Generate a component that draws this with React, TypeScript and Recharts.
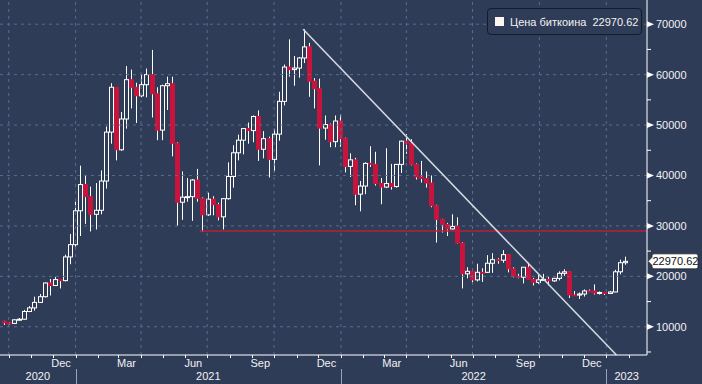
import React from "react";
import { ComposedChart, Bar, XAxis, YAxis, ReferenceLine } from "recharts";

const BG = "#2f3c58";
const RED = "#c8143c";
const GRID = "#5b6b8c";
const FONT = "'Liberation Sans', Arial, sans-serif";

const START = Date.parse("2020-09-19T00:00:00Z");
const END = Date.parse("2023-02-26T00:00:00Z");

const weeks = [
  "2020-09-21","2020-09-28","2020-10-05","2020-10-12","2020-10-19","2020-10-26","2020-11-02","2020-11-09","2020-11-16","2020-11-23","2020-11-30","2020-12-07","2020-12-14","2020-12-21","2020-12-28",
  "2021-01-04","2021-01-11","2021-01-18","2021-01-25","2021-02-01","2021-02-08","2021-02-15","2021-02-22","2021-03-01","2021-03-08","2021-03-15","2021-03-22","2021-03-29","2021-04-05","2021-04-12","2021-04-19","2021-04-26","2021-05-03","2021-05-10","2021-05-17","2021-05-24","2021-05-31","2021-06-07","2021-06-14","2021-06-21","2021-06-28","2021-07-05","2021-07-12","2021-07-19","2021-07-26","2021-08-02","2021-08-09","2021-08-16","2021-08-23","2021-08-30","2021-09-06","2021-09-13","2021-09-20","2021-09-27","2021-10-04","2021-10-11","2021-10-18","2021-10-25","2021-11-01","2021-11-08","2021-11-15","2021-11-22","2021-11-29","2021-12-06","2021-12-13","2021-12-20","2021-12-27",
  "2022-01-03","2022-01-10","2022-01-17","2022-01-24","2022-01-31","2022-02-07","2022-02-14","2022-02-21","2022-02-28","2022-03-07","2022-03-14","2022-03-21","2022-03-28","2022-04-04","2022-04-11","2022-04-18","2022-04-25","2022-05-02","2022-05-09","2022-05-16","2022-05-23","2022-05-30","2022-06-06","2022-06-13","2022-06-20","2022-06-27","2022-07-04","2022-07-11","2022-07-18","2022-07-25","2022-08-01","2022-08-08","2022-08-15","2022-08-22","2022-08-29","2022-09-05","2022-09-12","2022-09-19","2022-09-26","2022-10-03","2022-10-10","2022-10-17","2022-10-24","2022-10-31","2022-11-07","2022-11-14","2022-11-21","2022-11-28","2022-12-05","2022-12-12","2022-12-19","2022-12-26",
  "2023-01-02","2023-01-09","2023-01-16","2023-01-23",
];

const opens = [
  11080,10780,10670,11380,11500,13030,13740,14830,15960,18680,18180,19360,19150,23850,26280,
  33000,38200,35800,32300,33100,38900,48600,57500,45100,51200,59000,57500,55800,58000,60000,56200,49000,57800,58200,46400,34700,35700,35800,39100,35500,32200,35300,34200,31800,35400,39800,44500,47000,49300,48900,51700,45200,47300,43200,48200,54700,61500,61000,61300,63300,65500,58700,57200,49400,50100,46700,50800,
  47300,41800,43100,36300,37900,42400,42200,38400,37700,38400,37800,42200,46800,46400,42200,39700,39400,38500,34000,31300,30300,29400,29900,26600,20500,21000,19300,20800,20800,22600,23300,23200,24300,21500,20000,19830,21800,19400,18800,19300,19400,19100,19600,20600,20900,16300,16280,16500,17100,17090,16700,16800,
  16600,16900,20900,22700,
];
const highs = [
  11180,10960,11490,11720,13350,14090,15960,16480,18800,19480,19900,19400,24300,28400,34800,
  41950,40100,37800,38500,41000,49700,58300,57500,52600,61700,61000,58400,60100,61200,64900,57500,58000,59600,59600,46600,40800,39500,39300,41300,35700,36600,35900,34600,35500,42600,46000,48100,49400,50500,51900,52900,48800,47700,49200,56600,62000,67000,63700,63500,69000,66300,59300,59200,51900,50300,51900,52100,
  47500,44400,43500,38900,42600,45800,44700,39500,45400,42300,42300,46900,48200,47200,42400,42900,40800,40000,34200,31400,30600,32300,31700,26800,21800,21500,22500,21600,24200,24600,23600,25200,24400,21800,20500,21850,22700,19700,20300,20500,19900,19700,21000,21400,21000,17100,16800,17400,17400,18400,17000,16900,
  17100,21300,23300,23900,
];
const lows = [
  10360,10420,10540,11200,11420,12900,13200,14800,15800,16200,18100,17600,19000,22400,25900,
  28000,30400,28900,29300,32300,37400,46300,43000,44900,49300,53300,50400,55500,55500,51500,47000,47000,53000,43800,30000,31200,34800,31000,34800,28800,32000,32100,31100,29300,35200,37600,43000,44200,46300,46600,42900,43400,39600,40800,46900,53900,59600,57800,59400,62300,55600,53300,42000,47100,45600,45600,45700,
  40600,39700,34100,32900,36300,41700,38000,34300,37500,37200,37600,40500,44300,42000,39200,38600,37600,33700,26700,28700,28000,29300,26500,17600,19600,18600,19000,18900,20700,20700,22500,22700,20800,19800,19600,18600,19350,18200,18500,19100,18200,18900,19200,20100,15700,16200,15500,16000,16900,16400,16400,16300,
  16550,16850,20400,22300,
];
const closes = [
  10780,10670,11380,11500,13030,13740,14830,15960,18680,18180,19360,19150,23850,26280,33000,
  38200,35800,32300,33100,38900,48600,57500,45100,51200,59000,57500,55800,58000,60000,56200,49000,57800,58200,46400,34700,35700,35800,39100,35500,32200,35300,34200,31800,35400,39800,44500,47000,49300,48900,51700,45200,47300,43200,48200,54700,61500,61000,61300,63300,65500,58700,57200,49400,50100,46700,50800,47300,
  41800,43100,36300,37900,42400,42200,38400,37700,38400,37800,42200,46800,46400,42200,39700,39400,38500,34000,31300,30300,29400,29900,26600,20500,21000,19300,20800,20790,22600,23300,23200,24300,21500,20000,19830,21800,19400,18800,19300,19400,19100,19600,20600,20900,16300,16280,16500,17100,17090,16700,16800,16600,
  16900,20900,22700,22970.62,
];

const LAST_PRICE = 22970.62;
const SERIES_NAME = "Цена биткоина";

const priceTicks = [5000,10000,15000,20000,25000,30000,35000,40000,45000,50000,55000,60000,65000,70000];
const gridValues = [10000,20000,30000,40000,50000,60000,70000];

const monthStarts = [
  "2020-10-01","2020-11-01","2020-12-01","2021-01-01","2021-02-01","2021-03-01","2021-04-01","2021-05-01","2021-06-01","2021-07-01","2021-08-01","2021-09-01","2021-10-01","2021-11-01","2021-12-01",
  "2022-01-01","2022-02-01","2022-03-01","2022-04-01","2022-05-01","2022-06-01","2022-07-01","2022-08-01","2022-09-01","2022-10-01","2022-11-01","2022-12-01","2023-01-01","2023-02-01",
];
const quarterStarts = ["2020-10-01","2021-01-01","2021-04-01","2021-07-01","2021-10-01","2022-01-01","2022-04-01","2022-07-01","2022-10-01","2023-01-01"];
const monthLabelDates = ["2020-12-12","2021-03-12","2021-06-12","2021-09-12","2021-12-12","2022-03-12","2022-06-12","2022-09-12","2022-12-12"];
const monthLabelNames = ["Dec","Mar","Jun","Sep","Dec","Mar","Jun","Sep","Dec"];
const yearSeparators = ["2021-01-01","2022-01-01","2023-01-01"];
const yearNames = ["2020","2021","2022","2023"];

const trendStart = { date: "2021-11-10", value: 69000 };
const trendEnd = { date: "2023-01-15", value: 4400 };
const supportLevel = { date: "2021-06-21", value: 29000 };

const Y_DOMAIN = [4400, 74800];

const ts = (s: string) => Date.parse(s + "T00:00:00Z");
const DAY = 86400000;

const candles = weeks.map((w, i) => ({
  t: ts(w) + 3.5 * DAY,
  o: opens[i],
  h: highs[i],
  l: lows[i],
  c: closes[i],
}));

const monthStartTs = monthStarts.map(ts);
const labelMap = new Map<number, string>();
monthLabelDates.forEach((d, i) => labelMap.set(ts(d), monthLabelNames[i]));

const sepTs = yearSeparators.map(ts);
const sepSet = new Set<number>(sepTs);
const bounds = [START, ...sepTs, END];
const yearCenters = yearNames.map((_, i) => (bounds[i] + bounds[i + 1]) / 2);
const yearLabelMap = new Map<number, string>();
yearCenters.forEach((c, i) => yearLabelMap.set(c, yearNames[i]));

const axisTicks = [...monthStartTs, ...monthLabelDates.map(ts), ...yearCenters].sort((a, b) => a - b);

const Candle = (props: any) => {
  const { x, y, width, height, payload } = props;
  if (x == null || y == null || !payload || !isFinite(x) || !isFinite(y)) return null;
  const { o, h, l, c } = payload;
  const cx = Math.round(x + width / 2) + 0.5;
  const ppv = h === l ? 0 : height / (h - l);
  const yO = y + (h - o) * ppv;
  const yC = y + (h - c) * ppv;
  const top = Math.min(yO, yC);
  const bot = Math.max(yO, yC);
  const up = c >= o;
  const bw = 4;
  return (
    <g>
      <line x1={cx} x2={cx} y1={y} y2={y + height} stroke="#ffffff" strokeWidth={1} />
      <rect
        x={cx - bw / 2}
        y={top}
        width={bw}
        height={Math.max(bot - top, 1)}
        fill={up ? BG : RED}
        stroke={up ? "#ffffff" : RED}
        strokeWidth={1}
      />
    </g>
  );
};

const PriceTick = (props: any) => {
  const { x, y, payload } = props;
  const v = payload.value;
  if (v % 10000 === 0) {
    return (
      <g>
        <polygon points={`${x},${y - 3} ${x + 7},${y} ${x},${y + 3}`} fill="#ffffff" />
        <text x={x + 9} y={y + 4} fill="#f2f2f2" fontSize={11} fontFamily={FONT}>
          {v}
        </text>
      </g>
    );
  }
  return <line x1={x} x2={x + 4} y1={y} y2={y} stroke="#ffffff" strokeWidth={1} />;
};

const TimeTick = (props: any) => {
  const { x, y, payload } = props;
  const v = payload.value;
  const label = labelMap.get(v);
  if (label) {
    return (
      <text x={x} y={y + 12} textAnchor="middle" fill="#f2f2f2" fontSize={11} fontFamily={FONT}>
        {label}
      </text>
    );
  }
  const year = yearLabelMap.get(v);
  if (year) {
    return (
      <text x={x} y={y + 25} textAnchor="middle" fill="#f2f2f2" fontSize={11} fontFamily={FONT}>
        {year}
      </text>
    );
  }
  const xx = Math.round(x) + 0.5;
  return (
    <g>
      <line x1={xx} x2={xx} y1={y} y2={y + 3} stroke="#ffffff" strokeWidth={1} />
      {sepSet.has(v) ? <line x1={xx} x2={xx} y1={y + 14} y2={y + 31} stroke="#9aa4b8" strokeWidth={1} /> : null}
    </g>
  );
};

const PriceTag = (props: any) => {
  const vb = props.viewBox || {};
  const x0 = (vb.x || 0) + (vb.width || 0) + 1;
  const yc = vb.y || 0;
  const w = 50;
  const hh = 7.5;
  const d = `M ${x0} ${yc} L ${x0 + 4} ${yc - 4} L ${x0 + 4} ${yc - hh + 2} Q ${x0 + 4} ${yc - hh} ${x0 + 6} ${yc - hh} L ${x0 + w - 2} ${yc - hh} Q ${x0 + w} ${yc - hh} ${x0 + w} ${yc - hh + 2} L ${x0 + w} ${yc + hh - 2} Q ${x0 + w} ${yc + hh} ${x0 + w - 2} ${yc + hh} L ${x0 + 6} ${yc + hh} Q ${x0 + 4} ${yc + hh} ${x0 + 4} ${yc + hh - 2} L ${x0 + 4} ${yc + 4} Z`;
  return (
    <g>
      <path d={d} fill="#ffffff" stroke="#222222" strokeWidth={0.8} />
      <text x={x0 + 4.5} y={yc + 4} fill="#111111" fontSize={11} fontFamily={FONT}>
        {LAST_PRICE.toFixed(2)}
      </text>
    </g>
  );
};

export default function App() {
  return (
    <div
      style={{
        position: "fixed",
        left: 0,
        top: 0,
        width: 702,
        height: 384,
        background: BG,
        overflow: "hidden",
      }}
    >
      <ComposedChart width={702} height={384} data={candles} margin={{ top: 0, right: 0, bottom: 0, left: 0 }}>
        <XAxis
          xAxisId="m"
          dataKey="t"
          type="number"
          domain={[START, END]}
          allowDataOverflow
          ticks={axisTicks}
          interval={0}
          tick={<TimeTick />}
          tickLine={false}
          tickSize={0}
          tickMargin={0}
          axisLine={{ stroke: "#ffffff", strokeWidth: 1 }}
          height={29}
        />
        <YAxis
          orientation="right"
          type="number"
          domain={Y_DOMAIN}
          allowDataOverflow
          ticks={priceTicks}
          interval={0}
          tick={<PriceTick />}
          tickLine={false}
          tickSize={0}
          tickMargin={0}
          axisLine={{ stroke: "#ffffff", strokeWidth: 1 }}
          width={55}
        />
        {quarterStarts.map((q) => (
          <ReferenceLine key={"q" + q} xAxisId="m" x={ts(q)} stroke={GRID} strokeDasharray="3 4" strokeWidth={1} />
        ))}
        {gridValues.map((v) => (
          <ReferenceLine key={"g" + v} xAxisId="m" y={v} stroke={GRID} strokeDasharray="3 4" strokeWidth={1} />
        ))}
        <Bar
          xAxisId="m"
          dataKey={(d: any) => [d.l, d.h]}
          barSize={5}
          shape={<Candle />}
          isAnimationActive={false}
        />
        <ReferenceLine
          xAxisId="m"
          segment={[
            { x: ts(supportLevel.date), y: supportLevel.value },
            { x: END, y: supportLevel.value },
          ]}
          stroke="#b81f38"
          strokeWidth={1.6}
        />
        <ReferenceLine
          xAxisId="m"
          segment={[
            { x: ts(trendStart.date), y: trendStart.value },
            { x: ts(trendEnd.date), y: trendEnd.value },
          ]}
          stroke="#d6dbe4"
          strokeWidth={1.5}
        />
        <ReferenceLine xAxisId="m" y={LAST_PRICE} stroke="none" label={(p: any) => <PriceTag {...p} />} />
      </ComposedChart>
      <div
        style={{
          position: "absolute",
          left: 487,
          top: 8,
          width: 153,
          height: 25,
          border: "1px solid #141b29",
          borderRadius: 4,
          background: BG,
          boxSizing: "content-box",
          fontFamily: FONT,
          fontSize: 11,
          color: "#f2f2f2",
          display: "flex",
          alignItems: "center",
          whiteSpace: "pre",
        }}
      >
        <span style={{ display: "inline-block", width: 9, height: 9, background: "#fff5f0", marginLeft: 7, marginRight: 6 }} />
        <span>{SERIES_NAME + "  " + LAST_PRICE.toFixed(2)}</span>
      </div>
    </div>
  );
}
